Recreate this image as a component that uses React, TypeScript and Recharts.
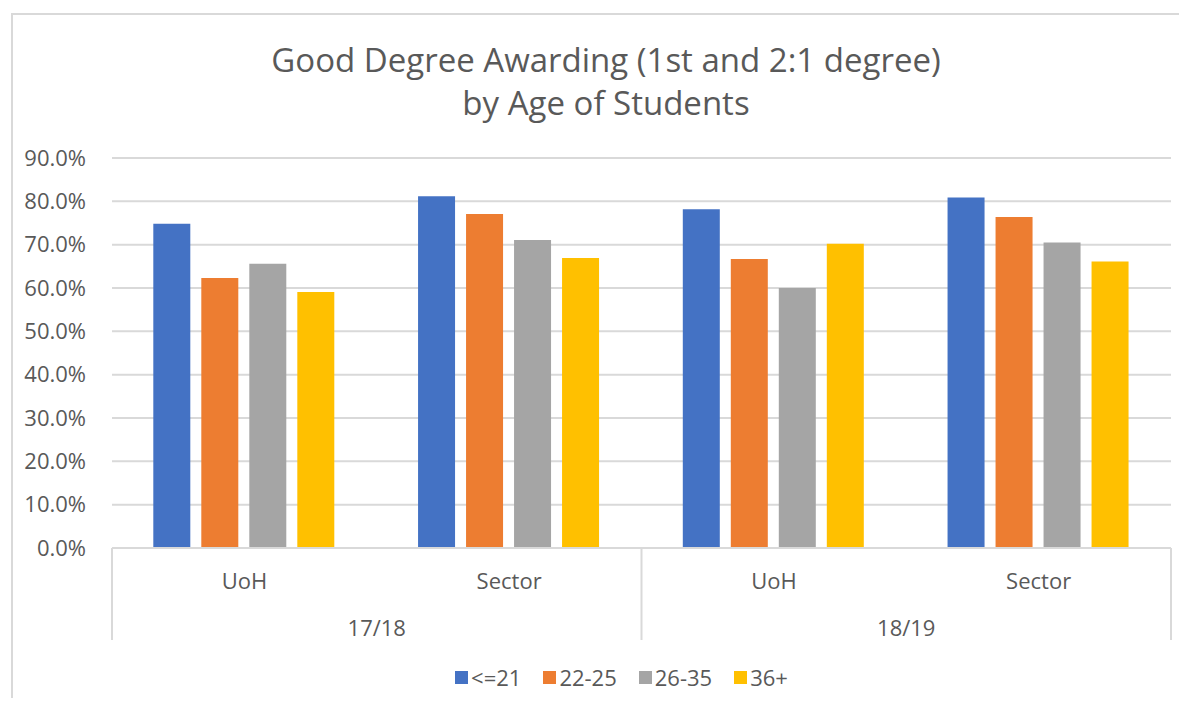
import { BarChart, Bar, XAxis, YAxis, CartesianGrid, Legend } from 'recharts';

const categories = ['UoH', 'Sector', 'UoH', 'Sector'];
const years = ['17/18', '17/18', '18/19', '18/19'];
const seriesNames = ['<=21', '22-25', '26-35', '36+'];
const upTo21 = [74.8, 81.2, 78.2, 80.9];
const age22to25 = [62.3, 77.1, 66.7, 76.4];
const age26to35 = [65.6, 71.1, 60.0, 70.5];
const age36plus = [59.1, 66.9, 70.2, 66.1];
const yTicks = [0, 10, 20, 30, 40, 50, 60, 70, 80, 90];

const colors = ['#4472C4', '#ED7D31', '#A5A5A5', '#FFC000'];
const FONT = '"Open Sans", sans-serif';
const TEXT = '#595959';
const LINE = '#d9d9d9';
const FS = 22;

const W = 1171;
const H = 690;
const M = { top: 150, right: 8, left: 24, bottom: 6 };
const Y_W = 80;
const PLOT_W = W - M.left - M.right - Y_W;
const BAND = PLOT_W / categories.length;

const data = categories.map((c, i) => ({
  group: c,
  year: years[i],
  s0: upTo21[i],
  s1: age22to25[i],
  s2: age26to35[i],
  s3: age36plus[i],
}));

const XTick = (props: any) => {
  const { x, y, payload } = props;
  const i = props.index ?? payload.index;
  return (
    <g>
      <text x={x} y={y + 32} textAnchor="middle" dominantBaseline="central" fontSize={FS} fill={TEXT} fontFamily={FONT}>
        {payload.value}
      </text>
      {i % 2 === 0 && (
        <text x={x + BAND / 2} y={y + 79} textAnchor="middle" dominantBaseline="central" fontSize={FS} fill={TEXT} fontFamily={FONT}>
          {years[i]}
        </text>
      )}
      {i % 2 === 0 && <line x1={x - BAND / 2} x2={x - BAND / 2} y1={y} y2={y + 92} stroke={LINE} strokeWidth={2} />}
      {i === categories.length - 1 && <line x1={x + BAND / 2} x2={x + BAND / 2} y1={y} y2={y + 92} stroke={LINE} strokeWidth={2} />}
    </g>
  );
};

const renderLegend = (props: any) => {
  const items = [...(props.payload || [])].sort(
    (a: any, b: any) => seriesNames.indexOf(a.value) - seriesNames.indexOf(b.value)
  );
  return (
    <div style={{ display: 'flex', justifyContent: 'center', alignItems: 'center', height: 30, paddingLeft: 40, fontFamily: FONT }}>
      {items.map((p: any, i: number) => (
        <div key={p.value} style={{ display: 'flex', alignItems: 'center', marginRight: i === items.length - 1 ? 0 : 22 }}>
          <span style={{ width: 13, height: 13, background: p.color, display: 'inline-block', marginRight: 3 }} />
          <span style={{ fontSize: FS, color: TEXT }}>{p.value}</span>
        </div>
      ))}
    </div>
  );
};

export default function App() {
  return (
    <div style={{ position: 'relative', width: W, height: H, fontFamily: FONT }}>
      <div
        style={{
          position: 'absolute',
          left: 3,
          top: 5,
          width: W - 3,
          height: 694,
          borderLeft: `2px solid ${LINE}`,
          borderTop: `2px solid ${LINE}`,
          boxSizing: 'border-box',
          pointerEvents: 'none',
        }}
      />
      <div
        style={{
          position: 'absolute',
          left: 98,
          width: 1000,
          top: 30,
          textAlign: 'center',
          fontSize: 33,
          lineHeight: '43px',
          color: TEXT,
        }}
      >
        Good Degree Awarding (1st and 2:1 degree)
        <br />
        by Age of Students
      </div>
      <BarChart width={W} height={H} data={data} margin={M} barCategoryGap="15.6%" barGap={11}>
        <CartesianGrid vertical={false} stroke={LINE} strokeWidth={2} />
        <XAxis
          dataKey="group"
          interval={0}
          height={114}
          tickLine={false}
          tickSize={0}
          tickMargin={0}
          axisLine={{ stroke: LINE, strokeWidth: 2 }}
          tick={<XTick />}
        />
        <YAxis
          width={Y_W}
          domain={[0, 90]}
          ticks={yTicks}
          interval={0}
          axisLine={false}
          tickLine={false}
          tickSize={6}
          tickMargin={20}
          tickFormatter={(v: number) => `${v.toFixed(1)}%`}
          tick={{ fontSize: FS, fill: TEXT, fontFamily: FONT }}
        />
        <Legend verticalAlign="bottom" align="center" content={renderLegend} wrapperStyle={{ height: 30 }} />
        {['s0', 's1', 's2', 's3'].map((k, i) => (
          <Bar key={k} dataKey={k} name={seriesNames[i]} fill={colors[i]} isAnimationActive={false} />
        ))}
      </BarChart>
    </div>
  );
}
